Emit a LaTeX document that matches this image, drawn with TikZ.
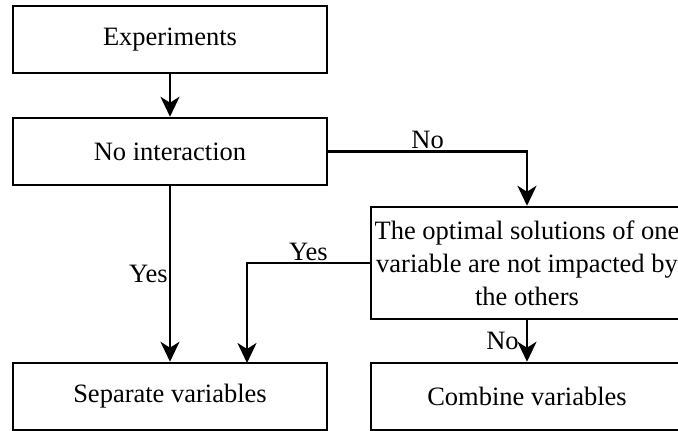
\documentclass[tikz,border=0pt]{standalone}
\usepackage{fontspec}
\setmainfont{Liberation Serif}
\usetikzlibrary{arrows.meta}
\begin{document}
\begin{tikzpicture}[x=1pt,y=-1pt,
  every node/.style={font=\fontsize{26.5}{33}\selectfont},
  stepbox/.style={draw, line width=2.5pt, rectangle, minimum width=314pt, minimum height=67pt, inner sep=0pt},
  flow/.style={line width=2.5pt, -{Stealth[length=20pt,width=19pt,inset=6pt]}},
  lbl/.style={inner sep=1pt}]
\clip (0,0) rectangle (678,431);
\fill[white] (0,0) rectangle (678,431);
\node[stepbox] (exp) at (170,39.5) {Experiments};
\node[stepbox] (noint) at (170,151.5) {No interaction};
\node[stepbox, minimum width=312pt, minimum height=112pt, align=center] (dec) at (527,263)
  {The optimal solutions of one\\variable are not impacted by\\the others};
\node[stepbox] (sep) at (170,396.5) {Separate variables};
\node[stepbox, minimum width=312pt] (comb) at (527,396.5) {Combine variables};
\coordinate (sepin) at (247,363);
\draw[flow] (exp) -- (noint);
\draw[flow] (noint.east) -| (dec.north) node[lbl, pos=0.25, above] {No};
\draw[flow] (noint) -- (sep) node[lbl, midway, left] {Yes};
\draw[flow] (dec.west) -| (sepin) node[lbl, pos=0.25, above] {Yes};
\draw[flow] (dec) -- (comb) node[lbl, midway, left, xshift=-6pt] {No};
\end{tikzpicture}
\end{document}
